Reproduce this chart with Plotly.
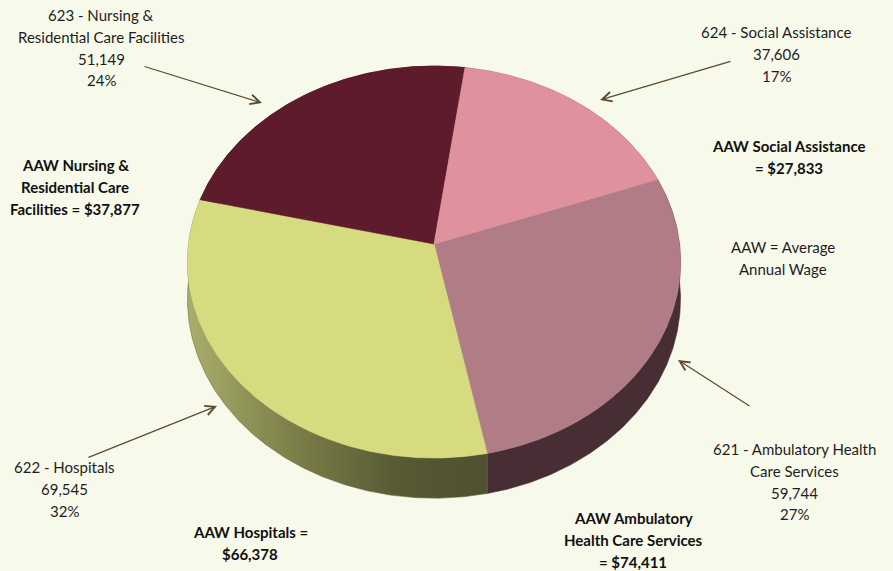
import numpy as np
import plotly.graph_objects as go

# ---------------- data ----------------
sector_codes = ["621", "622", "623", "624"]
sector_names = ["Ambulatory Health Care Services", "Hospitals",
                "Nursing & Residential Care Facilities", "Social Assistance"]
employment = [59744, 69545, 51149, 37606]
share_labels = ["27%", "32%", "24%", "17%"]
avg_annual_wage = ["$74,411", "$66,378", "$37,877", "$27,833"]

# ---------------- style ----------------
BG = "#F7F9EB"
top_colors = ["#B07C86", "#D5DB7E", "#5E1B2B", "#E0919E"]
side_colors = ["#462E34", "#6B6D3E", "#3E1019", "#9C5F6A"]
FONT = "Lato"
TXT = "#1E1E1E"
ARROW = "#5B4A2C"

# projection of a tilted disc with mild perspective (pixel space)
CX, CY = 434.0, 244.0
RX, RY = 245.5, 194.3
P = 0.092
DEPTH = 36.5
START = 70.0  # first slice starts here, clockwise from 12 o'clock


def project(theta_deg, r=1.0, drop=0.0):
    t = np.radians(np.asarray(theta_deg, dtype=float))
    u = r * np.sin(t)
    v = -r * np.cos(t)
    w = 1.0 / (1.0 - P * v)
    return CX + RX * u * w, CY + RY * v * w + drop * w


vals = np.array(employment, dtype=float)
frac = vals / vals.sum()
cum = np.concatenate([[0.0], np.cumsum(frac)[:-1]])

fig = go.Figure()

# sides (drawn first, tops cover the hidden parts)
order = [2, 3, 0, 1]
for i in order:
    a = START + 360 * cum[i]
    b = a + 360 * frac[i]
    th = np.linspace(a, b, 200)
    xt, yt = project(th)
    xb, yb = project(th[::-1], drop=DEPTH)
    xs = np.concatenate([xt, xb, xt[:1]])
    ys = np.concatenate([yt, yb, yt[:1]])
    kw = dict(fillcolor=side_colors[i])
    if i == 1:
        kw = dict(fillgradient=dict(type="horizontal",
                                    colorscale=[[0, "#A9AE6C"], [0.35, "#7C7F48"],
                                                [0.7, "#585A34"], [1, "#4E5030"]],
                                    start=188, stop=487))
    fig.add_trace(go.Scatter(x=xs, y=ys, mode="lines", fill="toself",
                             line=dict(width=0.6, color=side_colors[i]),
                             hoverinfo="skip", showlegend=False, **kw))

# tops
for i in range(len(employment)):
    a = START + 360 * cum[i]
    b = a + 360 * frac[i]
    th = np.linspace(a, b, 300)
    xt, yt = project(th)
    xs = np.concatenate([[CX], xt, [CX]])
    ys = np.concatenate([[CY], yt, [CY]])
    fig.add_trace(go.Scatter(x=xs, y=ys, mode="lines", fill="toself",
                             fillcolor=top_colors[i],
                             line=dict(width=0.6, color=top_colors[i]),
                             name=f"{sector_codes[i]} - {sector_names[i]}",
                             text=f"{employment[i]:,} ({share_labels[i]})",
                             hoverinfo="name+text", showlegend=False))

annotations = []


def add_block(lines, x, y0, bold=False, step=21.8, size=15):
    for k, line in enumerate(lines):
        t = f"<b>{line}</b>" if bold else line
        annotations.append(dict(x=x, y=y0 + k * step, xref="x", yref="y",
                                text=t, showarrow=False, xanchor="center",
                                yanchor="middle",
                                font=dict(family=FONT, size=size,
                                          color="#111111" if bold else TXT)))


def num(i):
    return f"{employment[i]:,}"


# data labels
add_block([f"{sector_codes[2]} - Nursing &", "Residential Care Facilities",
           num(2), share_labels[2]], 101, 15)
add_block([f"{sector_codes[3]} - {sector_names[3]}", num(3), share_labels[3]], 776, 32)
add_block([f"{sector_codes[1]} - {sector_names[1]}", num(1), share_labels[1]], 64, 467)
add_block([f"{sector_codes[0]} - Ambulatory Health", "Care Services",
           num(0), share_labels[0]], 794, 449)

# AAW labels
add_block(["AAW Nursing &", "Residential Care",
           f"Facilities = {avg_annual_wage[2]}"], 75, 165, bold=True)
add_block(["AAW Social Assistance", f"= {avg_annual_wage[3]}"], 789, 146, bold=True)
add_block(["AAW Hospitals =", avg_annual_wage[1]], 250, 532, bold=True)
add_block(["AAW Ambulatory", "Health Care Services",
           f"= {avg_annual_wage[0]}"], 633, 518, bold=True)
add_block(["AAW = Average", "Annual Wage"], 783, 247)

# leader arrows (head, tail)
arrows = [((262, 103), (143, 66)),
          ((600, 100), (732, 61)),
          ((217, 406), (87, 458)),
          ((678, 360), (751, 407))]
for (hx, hy), (tx, ty) in arrows:
    annotations.append(dict(x=hx, y=hy, ax=tx, ay=ty, xref="x", yref="y",
                            axref="x", ayref="y", text="", showarrow=True,
                            arrowhead=5, arrowsize=1.6, arrowwidth=1.2,
                            arrowcolor=ARROW, standoff=0, startstandoff=0))

fig.update_layout(
    width=893, height=571,
    margin=dict(l=0, r=0, t=0, b=0),
    paper_bgcolor=BG, plot_bgcolor=BG,
    xaxis=dict(range=[0, 893], visible=False, fixedrange=True),
    yaxis=dict(range=[571, 0], visible=False, fixedrange=True),
    annotations=annotations,
    showlegend=False,
)

fig.write_html("out.html",
               config={"displayModeBar": False},
               post_script="document.body.style.margin='0';"
                           "document.body.style.overflow='hidden';"
                           f"document.body.style.background='{BG}';")
